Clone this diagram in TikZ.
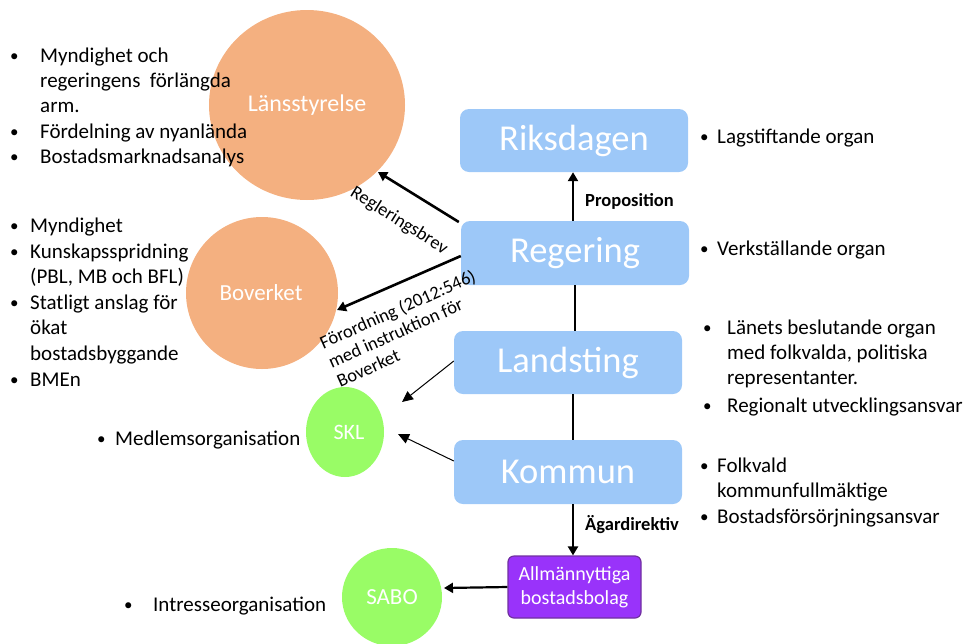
\documentclass[tikz,border=0pt]{standalone}
\usepackage{fontspec}
\setmainfont{Carlito}
\usetikzlibrary{arrows.meta}
\definecolor{boxblue}{RGB}{157,200,248}
\definecolor{orng}{RGB}{244,176,128}
\definecolor{grn}{RGB}{153,252,102}
\definecolor{purp}{RGB}{153,51,250}
\definecolor{purpd}{RGB}{112,48,160}
\newcommand\bitem[5]{\node[bdot] (#1b) at (#2,#4) {•}; \node[btxt] (#1) at (#3,#4) {#5};}
\newcommand\citem[4]{\node[btxt] (#1) at (#2,#3) {#4};}
\begin{document}
\begin{tikzpicture}[x=1pt,y=-1pt,
  btxt/.style={anchor=west, inner sep=0, font=\fontsize{21}{25}\selectfont, text height=15pt, text depth=4pt},
  bdot/.style={anchor=west, inner sep=0, font=\fontsize{17}{20}\selectfont, text height=12pt, text depth=3pt},
  bluebox/.style={fill=boxblue, draw=none, rounded corners=9pt, text=white, font=\fontsize{36.5}{40}\selectfont, inner sep=0},
  thick arrow/.style={line width=2.6pt, -{Triangle[length=9pt,width=10pt]}},
  thin arrow/.style={line width=1pt, -{Triangle[length=11pt,width=10pt]}},
  plain line/.style={line width=2.6pt},
  lbl/.style={font=\fontsize{18.5}{22}\selectfont\bfseries, inner sep=0, anchor=west},
  rlbl/.style={font=\fontsize{18.5}{21}\selectfont, inner sep=0, align=left},
  ctxt/.style={text=white, inner sep=0}
]
\useasboundingbox (0,0) rectangle (968,643);
% boxes
\node[bluebox, minimum width=228pt, minimum height=63pt] (riks) at (574,140.5) {Riksdagen};
\node[bluebox, minimum width=228pt, minimum height=64pt] (reg) at (575,253) {Regering};
\node[bluebox, minimum width=228pt, minimum height=63pt] (land) at (568,362.5) {Landsting};
\node[bluebox, minimum width=228pt, minimum height=64pt] (komm) at (568,472) {Kommun};
\node[fill=purp, draw=purpd, line width=1.2pt, rounded corners=6pt, minimum width=133pt, minimum height=62pt, text=white, align=center, inner sep=0, font=\fontsize{20}{24}\selectfont] (allm) at (574.5,587) {Allmännyttiga\\bostadsbolag};
% circles
\path[fill=orng] (307,105) ellipse [x radius=98, y radius=95];
\node[ctxt, font=\fontsize{24}{28}\selectfont] (lans) at (307,105) {Länsstyrelse};
\path[fill=orng] (262,293) ellipse [x radius=76, y radius=76];
\node[ctxt, font=\fontsize{23}{28}\selectfont] (bov) at (261,293) {Boverket};
\path[fill=grn] (345,432) ellipse [x radius=39, y radius=45];
\node[ctxt, font=\fontsize{22}{26}\selectfont] (skl) at (349,432) {SKL};
\path[fill=grn] (392,597) ellipse [x radius=50, y radius=49];
\node[ctxt, font=\fontsize{23}{26}\selectfont] (sabo) at (392,597) {SABO};
% coordinates for connector ends
\coordinate (lansE) at (378,172);
\coordinate (bovE) at (337,310);
\coordinate (sklA) at (402,402);
\coordinate (sklB) at (398,434);
\coordinate (saboE) at (444,588);
% connectors
\draw[thick arrow] (reg.north -| 573,0) -- (riks.south -| 573,0);
\draw[thick arrow] ([xshift=-2pt]reg.south west |- 0,222) -- (lansE);
\draw[thick arrow] (reg.west |- 0,256) -- (bovE);
\draw[plain line] (reg.south -| 575,0) -- (land.north -| 575,0);
\draw[plain line] (land.south -| 573,0) -- (komm.north -| 573,0);
\draw[thick arrow] (komm.south -| 573,0) -- (allm.north -| 573,0);
\draw[thin arrow] (land.west |- 0,361) -- (sklA);
\draw[thin arrow] (komm.west |- 0,461) -- (sklB);
\draw[line width=2.2pt, -{Triangle[length=9pt,width=10pt]}] (allm.west) -- (saboE);
% edge labels
\node[lbl] (prop) at (585,201) {Proposition};
\node[lbl] (agar) at (585,525) {Ägardirektiv};
\node[rlbl, rotate=-32] (regbrev) at (399,221) {Regleringsbrev};
\node[rlbl, rotate=24] (foror) at (406,328) {Förordning (2012:546)\\med instruktion för\\Boverket};
% bullet lists
\bitem{l1}{10}{40}{57}{Myndighet och}
\citem{l1b2}{40}{82}{regeringens\ \ förlängda}
\citem{l1b3}{40}{107}{arm.}
\bitem{l2}{10}{40}{133}{Fördelning av nyanlända}
\bitem{l3}{10}{40}{158}{Bostadsmarknadsanalys}
\bitem{b1}{10}{30}{227}{Myndighet}
\bitem{b2}{10}{30}{253}{Kunskapsspridning}
\citem{b2b}{30}{278}{(PBL, MB och BFL)}
\bitem{b3}{10}{30}{304}{Statligt anslag för}
\citem{b3c1}{30}{329}{ökat}
\citem{b3c}{30}{355}{bostadsbyggande}
\bitem{b4}{10}{30}{381}{BMEn}
\bitem{r1}{700}{717}{138}{Lagstiftande organ}
\bitem{r2}{700}{717}{250}{Verkställande organ}
\bitem{la1}{703}{727}{329}{Länets beslutande organ}
\citem{la1b}{727}{354}{med folkvalda, politiska}
\citem{la1c}{727}{379}{representanter.}
\bitem{la2}{703}{727}{407}{Regionalt utvecklingsansvar}
\bitem{k1}{700}{717}{467}{Folkvald}
\citem{k1b}{717}{492}{kommunfullmäktige}
\bitem{k2}{700}{717}{518}{Bostadsförsörjningsansvar}
\bitem{m1}{97}{115}{440}{Medlemsorganisation}
\bitem{i1}{124}{153}{606}{Intresseorganisation}
\end{tikzpicture}
\end{document}
